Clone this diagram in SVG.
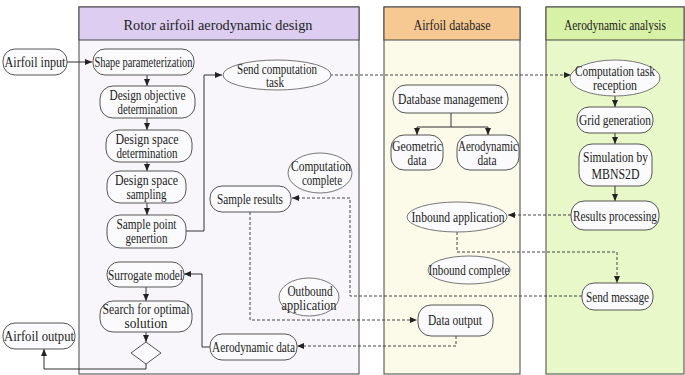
<svg xmlns="http://www.w3.org/2000/svg" width="685" height="375" viewBox="0 0 685 375">
<defs>
<marker id="arr" markerUnits="userSpaceOnUse" markerWidth="8" markerHeight="6" refX="7" refY="3" orient="auto"><path d="M0,0 L7,3 L0,6 z" fill="#222"/></marker>
<style>
text{font-family:"Liberation Serif","Times New Roman",serif;font-size:14px;fill:#222;text-anchor:middle}
.hd{font-size:14px}
.box{fill:#fbfbfd;stroke:#555;stroke-width:1}
.ell{fill:#fbfbfd;stroke:#777;stroke-width:1}
.pb{stroke:#444;stroke-width:1}
.c{fill:none;stroke:#333;stroke-width:1}
.d{fill:none;stroke:#444;stroke-width:1;stroke-dasharray:3,2}
</style>
</defs>
<rect width="685" height="375" fill="#ffffff"/>
<g id="lane-design">
<rect class="pb" x="79" y="7" width="280" height="367" fill="#f8f6fb"/>
<rect class="pb" x="79" y="7" width="280" height="33" fill="#dccdf1"/>
<text class="hd" x="218" y="30" textLength="189" lengthAdjust="spacingAndGlyphs">Rotor airfoil aerodynamic design</text>
</g>
<g id="lane-database">
<rect class="pb" x="384" y="7" width="136" height="367" fill="#fcfbea"/>
<rect class="pb" x="384" y="7" width="136" height="33" fill="#f6c992"/>
<text class="hd" x="452" y="30" textLength="77" lengthAdjust="spacingAndGlyphs">Airfoil database</text>
</g>
<g id="lane-analysis">
<rect class="pb" x="546" y="7" width="138" height="367" fill="#e9f8c8"/>
<rect class="pb" x="546" y="7" width="138" height="33" fill="#d7f1a6"/>
<text class="hd" x="615" y="30" textLength="102" lengthAdjust="spacingAndGlyphs">Aerodynamic analysis</text>
</g>
<g id="connectors">
<path class="c" d="M67,62 L92,62" marker-end="url(#arr)"/>
<path class="c" d="M147,75 L147,86" marker-end="url(#arr)"/>
<path class="c" d="M147,118 L147,130" marker-end="url(#arr)"/>
<path class="c" d="M147,162 L147,171" marker-end="url(#arr)"/>
<path class="c" d="M147,203 L147,215" marker-end="url(#arr)"/>
<path class="c" d="M186,231 L204,231 L204,75 L222,75" marker-end="url(#arr)"/>
<path class="c" d="M146,287 L146,301" marker-end="url(#arr)"/>
<path class="c" d="M146,332 L146,342" marker-end="url(#arr)"/>
<path class="c" d="M146,364 L146,369 L44,369 L44,349" marker-end="url(#arr)"/>
<path class="c" d="M210,347 L202,347 L202,274 L184,274" marker-end="url(#arr)"/>
<path class="d" d="M330,75 L571,75" marker-end="url(#arr)"/>
<path class="c" d="M615,96 L615,107" marker-end="url(#arr)"/>
<path class="c" d="M615,133 L615,144" marker-end="url(#arr)"/>
<path class="c" d="M615,186 L615,201" marker-end="url(#arr)"/>
<path class="d" d="M571,215 L508,215" marker-end="url(#arr)"/>
<path class="d" d="M457,232 L457,252 L617,252 L617,283" marker-end="url(#arr)"/>
<path class="d" d="M582,296 L350,296 L350,198 L292,198" marker-end="url(#arr)"/>
<path class="d" d="M250,212 L250,320 L417,320" marker-end="url(#arr)"/>
<path class="d" d="M456,336 L456,346 L297,346" marker-end="url(#arr)"/>
<path class="c" d="M451,113 L451,127 M417,127 L488,127"/>
<path class="c" d="M417,127 L417,135" marker-end="url(#arr)"/>
<path class="c" d="M488,127 L488,135" marker-end="url(#arr)"/>
</g>
<g id="airfoil-input">
<rect class="box" x="3" y="49" width="64" height="26" rx="12"/>
<text x="35" y="67" textLength="61" lengthAdjust="spacingAndGlyphs">Airfoil input</text>
</g>
<g id="shape-parameterization">
<rect class="box" x="93" y="49" width="101" height="26" rx="12"/>
<text x="143.5" y="67" textLength="98" lengthAdjust="spacingAndGlyphs">Shape parameterization</text>
</g>
<g id="design-objective">
<rect class="box" x="100" y="86" width="95" height="32" rx="13"/>
<text x="147.5" y="100" textLength="76" lengthAdjust="spacingAndGlyphs">Design objective</text>
<text x="147.5" y="114" textLength="60" lengthAdjust="spacingAndGlyphs">determination</text>
</g>
<g id="design-space-determination">
<rect class="box" x="106" y="130" width="86" height="32" rx="13"/>
<text x="147" y="144" textLength="63" lengthAdjust="spacingAndGlyphs">Design space</text>
<text x="147" y="158" textLength="61" lengthAdjust="spacingAndGlyphs">determination</text>
</g>
<g id="design-space-sampling">
<rect class="box" x="107" y="171" width="79" height="32" rx="13"/>
<text x="146.5" y="185" textLength="63" lengthAdjust="spacingAndGlyphs">Design space</text>
<text x="146.5" y="199" textLength="40" lengthAdjust="spacingAndGlyphs">sampling</text>
</g>
<g id="sample-point-generation">
<rect class="box" x="107" y="215" width="79" height="33" rx="13"/>
<text x="146.5" y="229" textLength="60" lengthAdjust="spacingAndGlyphs">Sample point</text>
<text x="146.5" y="243" textLength="42" lengthAdjust="spacingAndGlyphs">genertion</text>
</g>
<g id="surrogate-model">
<rect class="box" x="107" y="262" width="77" height="25" rx="12"/>
<text x="145.5" y="279.5" textLength="75" lengthAdjust="spacingAndGlyphs">Surrogate model</text>
</g>
<g id="search-optimal">
<rect class="box" x="100" y="301" width="92" height="31" rx="13"/>
<text x="146" y="314" textLength="87" lengthAdjust="spacingAndGlyphs">Search for optimal</text>
<text x="146" y="328" textLength="43" lengthAdjust="spacingAndGlyphs">solution</text>
</g>
<g id="decision">
<polygon class="box" points="146,342 161,353 146,364 131,353"/>
</g>
<g id="airfoil-output">
<rect class="box" x="3" y="323" width="72" height="26" rx="12"/>
<text x="39" y="341" textLength="70" lengthAdjust="spacingAndGlyphs">Airfoil output</text>
</g>
<g id="send-computation-task">
<ellipse class="ell" cx="277" cy="75" rx="54" ry="15"/>
<text x="277" y="73.5" textLength="80" lengthAdjust="spacingAndGlyphs">Send computation</text>
<text x="275" y="87" textLength="18" lengthAdjust="spacingAndGlyphs">task</text>
</g>
<g id="computation-complete">
<ellipse class="ell" cx="320" cy="173" rx="32" ry="20"/>
<text x="321" y="171" textLength="60" lengthAdjust="spacingAndGlyphs">Computation</text>
<text x="322" y="185" textLength="40" lengthAdjust="spacingAndGlyphs">complete</text>
</g>
<g id="sample-results">
<rect class="box" x="210" y="186" width="81" height="26" rx="12"/>
<text x="250" y="204" textLength="66" lengthAdjust="spacingAndGlyphs">Sample results</text>
</g>
<g id="outbound-application">
<ellipse class="ell" cx="309" cy="297" rx="30" ry="19"/>
<text x="310" y="296" textLength="45" lengthAdjust="spacingAndGlyphs">Outbound</text>
<text x="309" y="310" textLength="55" lengthAdjust="spacingAndGlyphs">application</text>
</g>
<g id="aerodynamic-data-out">
<rect class="box" x="210" y="334" width="87" height="26" rx="12"/>
<text x="253.5" y="352" textLength="83" lengthAdjust="spacingAndGlyphs">Aerodynamic data</text>
</g>
<g id="database-management">
<rect class="box" x="393" y="85" width="115" height="28" rx="13"/>
<text x="450.5" y="104" textLength="105" lengthAdjust="spacingAndGlyphs">Database management</text>
</g>
<g id="geometric-data">
<rect class="box" x="391" y="135" width="52" height="35" rx="13"/>
<text x="417" y="151" textLength="50" lengthAdjust="spacingAndGlyphs">Geometric</text>
<text x="417" y="165" textLength="19" lengthAdjust="spacingAndGlyphs">data</text>
</g>
<g id="aerodynamic-data-db">
<rect class="box" x="457" y="135" width="62" height="35" rx="13"/>
<text x="488" y="151" textLength="60" lengthAdjust="spacingAndGlyphs">Aerodynamic</text>
<text x="487" y="165" textLength="19" lengthAdjust="spacingAndGlyphs">data</text>
</g>
<g id="inbound-application">
<ellipse class="ell" cx="457" cy="217" rx="50" ry="15"/>
<text x="458" y="222" textLength="93" lengthAdjust="spacingAndGlyphs">Inbound application</text>
</g>
<g id="inbound-complete">
<ellipse class="ell" cx="469" cy="270" rx="41" ry="14"/>
<text x="469" y="275" textLength="81" lengthAdjust="spacingAndGlyphs">Inbound complete</text>
</g>
<g id="data-output">
<rect class="box" x="418" y="305" width="75" height="31" rx="13"/>
<text x="455" y="325" textLength="54" lengthAdjust="spacingAndGlyphs">Data output</text>
</g>
<g id="computation-task-reception">
<ellipse class="ell" cx="615" cy="78" rx="45" ry="18"/>
<text x="615" y="76" textLength="80" lengthAdjust="spacingAndGlyphs">Computation task</text>
<text x="615" y="90" textLength="44" lengthAdjust="spacingAndGlyphs">reception</text>
</g>
<g id="grid-generation">
<rect class="box" x="577" y="107" width="76" height="26" rx="12"/>
<text x="615" y="125" textLength="72" lengthAdjust="spacingAndGlyphs">Grid generation</text>
</g>
<g id="simulation">
<rect class="box" x="579" y="144" width="73" height="42" rx="13"/>
<text x="615.5" y="162" textLength="65" lengthAdjust="spacingAndGlyphs">Simulation by</text>
<text x="615.5" y="179" textLength="48" lengthAdjust="spacingAndGlyphs">MBNS2D</text>
</g>
<g id="results-processing">
<rect class="box" x="571" y="201" width="88" height="29" rx="13"/>
<text x="615" y="220.5" textLength="84" lengthAdjust="spacingAndGlyphs">Results processing</text>
</g>
<g id="send-message">
<rect class="box" x="582" y="283" width="71" height="27" rx="12"/>
<text x="617.5" y="301.5" textLength="63" lengthAdjust="spacingAndGlyphs">Send message</text>
</g>
</svg>
